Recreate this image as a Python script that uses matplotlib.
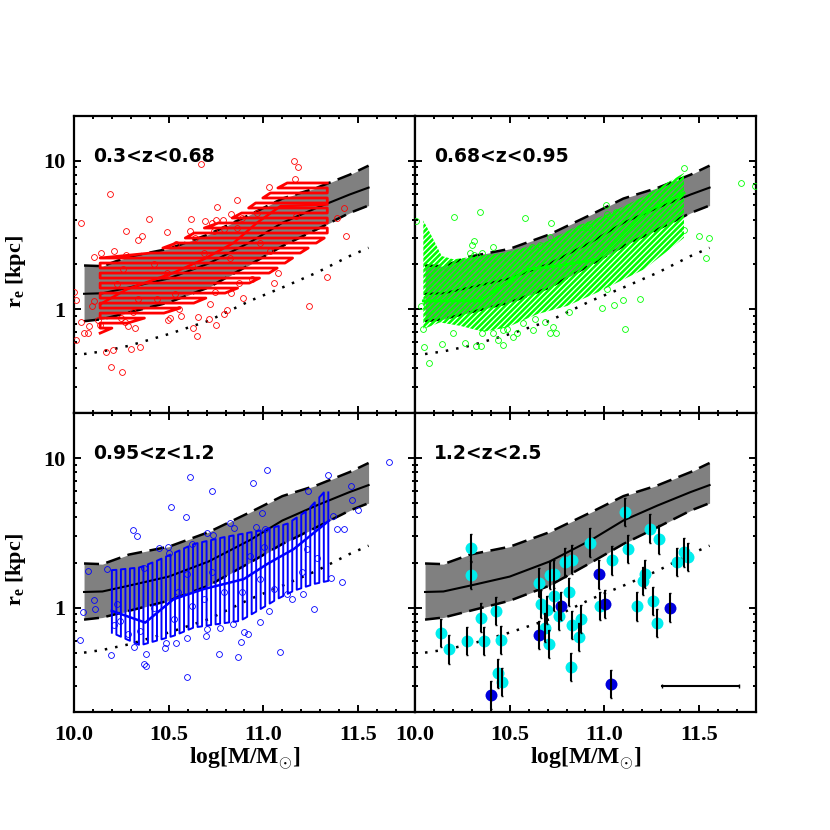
import matplotlib
matplotlib.use('Agg')
import matplotlib.pyplot as plt
import numpy as np

plt.rcParams['font.family'] = 'Liberation Serif'
plt.rcParams['mathtext.fontset'] = 'custom'
plt.rcParams['mathtext.rm'] = 'Liberation Serif:bold'
plt.rcParams['mathtext.bf'] = 'Liberation Serif:bold'
plt.rcParams['hatch.linewidth'] = 1.9
plt.rcParams['path.simplify'] = False

# local relation: log mass, then r_e in kpc
band_mass = [10.053, 10.15, 10.29, 10.50, 10.71, 10.93, 11.10, 11.28, 11.455, 11.555]
band_mean = [1.27, 1.28, 1.40, 1.61, 2.03, 2.83, 3.82, 4.81, 5.92, 6.59]
band_upper = [1.97, 1.95, 2.26, 2.55, 3.19, 4.34, 5.56, 6.56, 8.05, 9.26]
band_lower = [0.83, 0.857, 0.95, 1.11, 1.40, 2.0, 2.66, 3.44, 4.45, 4.99]
band_dotted = [0.499, 0.52, 0.567, 0.68, 0.835, 1.14, 1.40, 1.76, 2.28, 2.59]

# all the values below are log10(r_e)
red_x = [11.16, 11.185, 10.67, 11.164, 11.03, 10.19, 10.86, 10.755, 11.427, 10.037, 10.397, 10.62, 10.69, 10.73,
         10.75, 10.787, 10.83, 11.39, 10.275, 10.49, 10.61, 10.358, 10.337, 11.436, 10.21, 10.145, 10.106, 10.273,
         10.54, 10.64, 11.078, 11.056, 11.337, 10.892, 11.243, 10.83, 10.746, 10.0, 10.01, 10.106, 10.093, 10.716,
         10.556, 10.808, 10.79, 10.566, 10.656, 10.508, 10.496, 10.713, 10.748, 10.63, 10.65, 10.037, 10.08, 10.053,
         10.076, 10.01, 10.129, 10.138, 10.27, 10.286, 10.32, 10.25, 10.17, 10.206, 10.30, 10.346, 10.196, 10.254,
         10.684, 10.623, 10.49, 10.42, 10.26, 10.226, 10.34, 10.437, 10.534, 10.825, 10.87, 10.94, 11.037, 11.17,
         10.966, 10.887, 10.86, 10.79, 10.737, 10.984, 10.314]
red_y = [1.0, 0.957, 0.98, 0.877, 0.825, 0.779, 0.738, 0.691, 0.682, 0.579, 0.606, 0.606, 0.597, 0.582,
         0.60, 0.604, 0.638, 0.615, 0.528, 0.523, 0.528, 0.492, 0.463, 0.492, 0.394, 0.376, 0.349, 0.362,
         0.436, 0.481, 0.246, 0.174, 0.215, 0.076, 0.022, 0.107, 0.116, 0.119, 0.063, 0.054, 0.02, 0.034,
         -0.002, -0.007, -0.029, -0.049, -0.051, -0.058, -0.074, -0.067, -0.107, -0.125, -0.179, -0.085, -0.114, -0.157,
         -0.159, -0.208, -0.072, -0.105, -0.089, -0.112, -0.128, -0.056, -0.289, -0.273, -0.268, -0.253, -0.391, -0.421,
         0.38, 0.291, 0.246, 0.302, 0.268, 0.168, 0.067, 0.067, 0.10, 0.347, 0.179, 0.201, 0.391, 0.626,
         0.649, 0.615, 0.548, 0.537, 0.526, 0.447, -0.022]
red_top_x = [10.138, 10.367, 10.473, 10.543, 10.667, 10.861, 10.984, 11.09, 11.143]
red_top_y = [0.358, 0.358, 0.414, 0.447, 0.537, 0.626, 0.738, 0.828, 0.861]
red_low_x = [10.138, 10.208, 10.349, 10.455, 10.596, 10.702, 10.808, 10.931, 11.019, 11.09, 11.196, 11.337]
red_low_y = [-0.161, -0.123, -0.067, -0.034, 0.022, 0.078, 0.112, 0.179, 0.235, 0.291, 0.38, 0.492]
red_med_x = [10.138, 10.279, 10.526, 10.684, 10.843, 10.966, 11.09, 11.337]
red_med_y = [0.034, 0.134, 0.246, 0.336, 0.447, 0.582, 0.694, 0.705]

green_x = [11.42, 11.723, 11.794, 11.007, 10.344, 10.206, 10.582, 10.718, 11.014, 11.062, 10.005, 10.882, 10.917,
           10.71, 11.50, 11.552, 11.42, 11.534, 10.309, 10.30, 10.411, 10.658, 10.291, 10.356, 10.312, 10.617, 11.014,
           11.099, 11.19, 11.053, 10.986, 10.813, 10.032, 11.109, 10.684, 10.631, 10.57, 10.728, 10.711, 10.743, 10.623,
           10.538, 10.515, 10.485, 10.464, 10.414, 10.437, 10.467, 10.353, 10.201, 10.04, 10.049, 10.143, 10.263,
           10.321, 10.346, 10.076]
green_y = [0.949, 0.852, 0.832, 0.70, 0.655, 0.62, 0.617, 0.579, 0.644, 0.655, 0.597, 0.555, 0.555,
           0.488, 0.494, 0.477, 0.532, 0.342, 0.459, 0.434, 0.418, 0.43, 0.378, 0.376, 0.365, 0.418, 0.134,
           0.06, 0.072, 0.029, 0.007, -0.018, 0.02, -0.132, -0.085, -0.067, -0.094, -0.123, -0.161, -0.159, -0.143,
           -0.157, -0.188, -0.134, -0.139, -0.163, -0.21, -0.239, -0.157, -0.159, -0.13, -0.255, -0.233, -0.228,
           -0.246, -0.248, -0.36]
green_top_x = [10.044, 10.079, 10.141, 10.203, 10.467, 10.679, 10.855, 11.032, 11.208, 11.314, 11.42]
green_top_y = [0.597, 0.515, 0.358, 0.336, 0.38, 0.447, 0.559, 0.649, 0.76, 0.839, 0.917]
green_low_x = [10.044, 10.132, 10.238, 10.362, 10.485, 10.644, 10.803, 10.961, 11.102, 11.208, 11.332, 11.42]
green_low_y = [-0.134, -0.089, -0.112, -0.152, -0.123, -0.034, 0.022, 0.112, 0.201, 0.268, 0.391, 0.481]
green_med_x = [10.044, 10.344, 10.591, 10.75, 10.961, 11.102, 11.208, 11.42]
green_med_y = [0.056, 0.056, 0.268, 0.291, 0.336, 0.515, 0.649, 0.783]

blue_x = [11.663, 11.342, 11.019, 10.614, 10.945, 10.728, 11.236, 11.464, 11.466, 10.513, 10.589, 10.993, 11.499,
          11.365, 10.31, 10.333, 10.704, 10.732, 10.825, 10.845, 10.963, 11.009, 11.39, 11.425, 10.45, 10.496, 10.499,
          10.623, 10.173, 10.074, 10.372, 11.354, 11.413, 10.106, 10.111, 10.046, 10.032, 11.125, 11.153, 11.208,
          11.266, 11.03, 10.984, 10.896, 10.917, 10.884, 11.09, 10.866, 10.767, 10.594, 10.37, 10.379, 10.381, 10.194,
          10.317, 10.48, 10.538, 10.487, 10.598, 10.697, 10.702, 10.772, 10.838, 10.212, 10.243, 10.287, 10.349,
          10.42, 10.547, 10.79, 10.887, 10.984, 11.055, 11.205, 11.284, 11.228, 11.005, 10.931, 10.728, 10.596,
          10.684, 10.623, 10.526, 10.226]
blue_y = [0.973, 0.888, 0.919, 0.875, 0.834, 0.779, 0.779, 0.814, 0.718, 0.669, 0.606, 0.629, 0.655,
          0.615, 0.517, 0.479, 0.497, 0.483, 0.562, 0.535, 0.537, 0.526, 0.526, 0.523, 0.398, 0.403, 0.362,
          0.425, 0.257, 0.242, 0.264, 0.197, 0.172, 0.047, -0.011, -0.029, -0.215, 0.089, 0.054, 0.089,
          -0.011, -0.025, -0.094, -0.163, -0.177, -0.23, -0.295, -0.329, -0.311, -0.465, -0.376, -0.389, -0.311, -0.32,
          -0.266, -0.268, -0.239, -0.237, -0.201, -0.192, -0.143, -0.134, -0.112, -0.119, -0.089, -0.179, -0.154,
          -0.004, 0.105, 0.101, 0.105, 0.19, 0.123, 0.235, 0.331, 0.391, 0.403, 0.347, 0.235, 0.224,
          0.056, 0.011, -0.078, 0.022]
blue_top_x = [10.208, 10.349, 10.438, 10.632, 10.79, 10.984, 11.125, 11.231, 11.319, 11.346]
blue_top_y = [0.25, 0.268, 0.313, 0.425, 0.47, 0.515, 0.559, 0.648, 0.77, 0.77]
blue_low_x = [10.199, 10.349, 10.526, 10.632, 10.878, 10.984, 11.072, 11.16, 11.266, 11.346]
blue_low_y = [-0.168, -0.253, -0.19, -0.134, -0.089, -0.011, 0.056, 0.112, 0.157, 0.179]
blue_med_x = [10.199, 10.376, 10.526, 10.684, 10.896, 11.02, 11.16, 11.346]
blue_med_y = [-0.022, -0.101, 0.056, 0.123, 0.19, 0.291, 0.391, 0.581]

cyan_x = [10.293, 10.296, 10.136, 10.18, 10.277, 10.349, 10.365, 10.429, 10.453, 10.437, 10.459, 10.653, 10.667,
          10.697, 10.684, 10.707, 10.711, 10.735, 10.735, 10.762, 10.79, 10.827, 10.811, 10.829, 10.864, 10.878,
          10.824, 10.922, 10.974, 11.041, 11.109, 11.123, 11.173, 11.203, 11.213, 11.238, 11.257, 11.275, 11.287,
          11.384, 11.42, 11.443]
cyan_y = [0.398, 0.219, -0.172, -0.28, -0.226, -0.067, -0.224, -0.022, -0.219, -0.441, -0.497, 0.166, 0.022,
          -0.018, -0.134, -0.246, 0.219, 0.224, 0.074, -0.056, 0.302, 0.32, 0.105, -0.119, -0.197, -0.078,
          -0.398, 0.434, 0.011, 0.315, 0.64, 0.391, 0.007, 0.179, 0.224, 0.528, 0.045, -0.103, 0.456,
          0.304, 0.369, 0.338]
navy_x = [10.402, 10.654, 10.772, 10.97, 11.005, 11.035, 11.344]
navy_y = [-0.586, -0.183, 0.011, 0.221, 0.022, -0.51, 0.0]
err_dex = 0.095
scale_bar_x = [11.305, 11.711]
scale_bar_y = -0.523

xticks = [10.0, 10.5, 11.0, 11.5]
yticks = [1, 10]
titles = ['0.3<z<0.68', '0.68<z<0.95', '0.95<z<1.2', '1.2<z<2.5']


def to_re(log_values):
    return 10 ** np.asarray(log_values)


def draw_band(ax):
    ax.fill_between(band_mass, band_lower, band_upper, color='#808080', linewidth=0, zorder=1)
    ax.plot(band_mass, band_mean, color='k', lw=1.5, zorder=2)
    ax.plot(band_mass, band_upper, color='k', lw=1.8, dashes=(6, 3), zorder=2)
    ax.plot(band_mass, band_lower, color='k', lw=1.8, dashes=(6, 3), zorder=2)
    ax.plot(band_mass, band_dotted, color='k', lw=1.8, dashes=(1, 3.2), zorder=2)


def draw_hatch(ax, top_x, top_y, low_x, low_y, color, hatch):
    xs = list(top_x) + list(low_x)[::-1]
    ys = list(top_y) + list(low_y)[::-1]
    ax.fill(xs, to_re(ys), facecolor='none', edgecolor=color, hatch=hatch, linewidth=0, zorder=3)


def draw_vertical_meander(ax, color):
    # the fill is one line going up and down, as in the original
    line_x = np.arange(10.2, 11.35, 0.0238)
    tops = np.interp(line_x, blue_top_x, blue_top_y)
    lows = np.interp(line_x, blue_low_x, blue_low_y)
    path_x, path_y = [], []
    for i, x in enumerate(line_x):
        ends = [lows[i], tops[i]] if i % 2 == 0 else [tops[i], lows[i]]
        path_x += [x, x]
        path_y += ends
    ax.plot(path_x, to_re(path_y), color=color, lw=1.4, zorder=3)


def draw_horizontal_meander(ax, color):
    line_y = np.arange(-0.161, 0.861, 0.0337)
    lefts = np.interp(line_y, red_top_y, red_top_x)
    rights = np.interp(line_y, red_low_y, red_low_x)
    path_x, path_y = [], []
    for i, y in enumerate(line_y):
        ends = [lefts[i], rights[i]] if i % 2 == 0 else [rights[i], lefts[i]]
        path_x += ends
        path_y += [y, y]
    ax.plot(path_x, to_re(path_y), color=color, lw=2.0, zorder=3)


def draw_points(ax, x, y, color):
    ax.plot(x, to_re(y), 'o', mfc='none', mec=color, ms=4.2, mew=0.6, zorder=5)


fig = plt.figure(figsize=(8.3, 8.3), dpi=100)
W = 830.0
boxes = [(74, 116, 341, 297), (415, 116, 341, 297), (74, 413, 341, 299), (415, 413, 341, 299)]
axes = []
for box in boxes:
    axes.append(fig.add_axes([box[0] / W, 1 - (box[1] + box[3]) / W, box[2] / W, box[3] / W]))

for i, ax in enumerate(axes):
    draw_band(ax)
    ax.set_xlim(10.0, 11.8)
    ax.set_ylim(0.2, 20)
    ax.set_yscale('log')
    ax.set_xticks(xticks)
    ax.set_xticks(np.arange(10.0, 11.81, 0.1), minor=True)
    ax.set_yticks(yticks)
    ax.set_yticks([j * d for d in (0.1, 1, 10) for j in range(2, 10) if 0.2 <= j * d <= 20], minor=True)
    ax.tick_params(which='major', direction='in', top=True, right=True, length=5, width=1.4, labelsize=16)
    ax.tick_params(axis='x', which='major', pad=9)
    ax.tick_params(axis='y', which='major', pad=6)
    ax.tick_params(which='minor', direction='in', top=True, right=True, length=2.5, width=1.4, labelleft=False)
    for spine in ax.spines.values():
        spine.set_linewidth(1.6)
    if i % 2 == 0:
        ax.set_yticklabels(['1', '10'], fontweight='bold')
        ax.set_ylabel(r'r$_{\mathbf{e}}$ [kpc]', fontsize=16, fontweight='bold')
        ax.yaxis.set_label_coords(-0.135, 0.478)
    else:
        ax.tick_params(which='major', labelleft=False)
    if i >= 2:
        ax.set_xticklabels(['10.0', '10.5', '11.0', '11.5'], fontweight='bold')
        ax.set_xlabel(r'log[M/M$_{\odot}$]', fontsize=17, fontweight='bold', labelpad=1)
    else:
        ax.tick_params(which='major', labelbottom=False)
    ax.text(0.055, 0.865, titles[i], transform=ax.transAxes, fontsize=13.5, fontweight='bold',
            family='DejaVu Sans', va='center')

draw_horizontal_meander(axes[0], '#ff0000')
axes[0].plot(red_med_x, to_re(red_med_y), color='#ff0000', lw=1.8, zorder=4)
draw_points(axes[0], red_x, red_y, '#ff0000')

draw_hatch(axes[1], green_top_x, green_top_y, green_low_x, green_low_y, '#00ff00', '/' * 6)
axes[1].plot(green_med_x, to_re(green_med_y), color='#00ff00', lw=2.0, zorder=4)
draw_points(axes[1], green_x, green_y, '#00ff00')

draw_vertical_meander(axes[2], '#0000ff')
axes[2].plot(blue_med_x, to_re(blue_med_y), color='#0000ff', lw=1.8, zorder=4)
draw_points(axes[2], blue_x, blue_y, '#0000ff')

ax = axes[3]
ax.plot(cyan_x, to_re(cyan_y), 'o', color='#00eeee', ms=8.6, mew=0, zorder=3)
ax.plot(navy_x, to_re(navy_y), 'o', color='#0000dd', ms=8.6, mew=0, zorder=3)
for xs, ys in ((cyan_x, cyan_y), (navy_x, navy_y)):
    ys = np.asarray(ys)
    ax.errorbar(xs, to_re(ys), yerr=[to_re(ys) - to_re(ys - err_dex), to_re(ys + err_dex) - to_re(ys)],
                fmt='none', ecolor='k', elinewidth=1.5, capsize=1, capthick=1, zorder=4)
ax.plot(scale_bar_x, to_re([scale_bar_y, scale_bar_y]), color='k', lw=1.5, marker='|', ms=3, zorder=4)

fig.savefig('out.png', dpi=100)
